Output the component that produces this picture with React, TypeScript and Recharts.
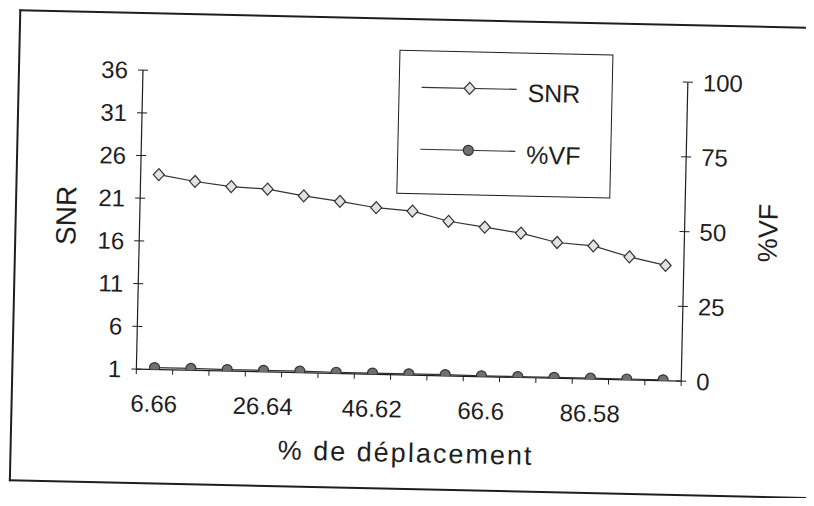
import { Label, Legend, Line, LineChart, XAxis, YAxis } from "recharts";

// % de déplacement (categories)
const deplacement = ["6.66", "13.32", "19.98", "26.64", "33.3", "39.96", "46.62", "53.28", "59.94", "66.6", "73.26", "79.92", "86.58", "93.24", "99.9"];
// SNR (left axis)
const snr = [23.8, 23.1, 22.6, 22.4, 21.7, 21.15, 20.5, 20.2, 19.1, 18.5, 17.9, 16.9, 16.6, 15.4, 14.5];
// %VF (right axis)
const vf = [0.6, 0.6, 0.5, 0.5, 0.5, 0.4, 0.4, 0.4, 0.4, 0.3, 0.3, 0.3, 0.3, 0.3, 0.3];

const snrTicks = [1, 6, 11, 16, 21, 26, 31, 36];
const vfTicks = [0, 25, 50, 75, 100];
const labelEvery = 3;
const seriesOrder = ["snr", "vf"];

const data = deplacement.map((x, i) => ({ x, snr: snr[i], vf: vf[i] }));

const W = 814;
const H = 506;
const PLOT = { left: 139, right: 684, top: 76, bottom: 375 };
const BAND = (PLOT.right - PLOT.left) / deplacement.length;
const AXIS_W = 60;
const XAXIS_H = 40;
const FONT = '"Liberation Sans", Arial, sans-serif';
const INK = "#1e1e1e";
const TICK_FONT = 24;

function LeftTick(props: any) {
  const y = props.payload.coordinate;
  return (
    <g>
      <line x1={PLOT.left - 5} x2={PLOT.left + 5} y1={y} y2={y} stroke={INK} />
      <text x={PLOT.left - 15} y={y} dy="0.36em" textAnchor="end" fontSize={TICK_FONT} fontFamily={FONT} fill={INK}>
        {props.payload.value}
      </text>
    </g>
  );
}

function RightTick(props: any) {
  const y = props.payload.coordinate;
  return (
    <g>
      <line x1={PLOT.right - 5} x2={PLOT.right + 5} y1={y} y2={y} stroke={INK} />
      <text x={PLOT.right + 15} y={y} dy="0.36em" textAnchor="start" fontSize={TICK_FONT} fontFamily={FONT} fill={INK}>
        {props.payload.value}
      </text>
    </g>
  );
}

function XTick(props: any) {
  const { payload, index } = props;
  const cx = payload.coordinate;
  const y0 = PLOT.bottom;
  return (
    <g>
      <line x1={cx - BAND / 2} x2={cx - BAND / 2} y1={y0} y2={y0 + 5} stroke={INK} />
      {index === deplacement.length - 1 && <line x1={cx + BAND / 2} x2={cx + BAND / 2} y1={y0} y2={y0 + 5} stroke={INK} />}
      {index % labelEvery === 0 && (
        <text x={cx} y={y0 + 34} dy="0.36em" textAnchor="middle" fontSize={TICK_FONT} fontFamily={FONT} fill={INK}>
          {payload.value}
        </text>
      )}
    </g>
  );
}

function Diamond({ cx, cy, s = 5.5 }: { cx: number; cy: number; s?: number }) {
  return <path d={`M${cx},${cy - s - 0.5}L${cx + s},${cy}L${cx},${cy + s + 0.5}L${cx - s},${cy}Z`} fill="#e2e2e2" stroke="#333" strokeWidth={1.2} />;
}

function DiamondDot(props: any) {
  if (props.cx == null || props.cy == null) return <g key={props.index} />;
  return (
    <g key={`d-${props.index}`}>
      <Diamond cx={props.cx} cy={props.cy} />
    </g>
  );
}

const legendRows = [36, 98];

function LegendBox(props: any) {
  const items = [...(props.payload || [])].sort((a: any, b: any) => seriesOrder.indexOf(a.dataKey) - seriesOrder.indexOf(b.dataKey));
  return (
    <div style={{ width: "100%", height: "100%", border: `1.5px solid ${INK}`, boxSizing: "border-box", background: "#fff" }}>
      <svg width={212} height={141} style={{ display: "block" }}>
        {items.map((it: any, i: number) => {
          const y = legendRows[i];
          return (
            <g key={it.value}>
              <line x1={22} x2={117} y1={y} y2={y} stroke="#333" strokeWidth={1.2} />
              {it.dataKey === "snr" ? <Diamond cx={70} cy={y} /> : <circle cx={70} cy={y} r={5} fill="#707070" stroke="#333" strokeWidth={1.2} />}
              <text x={128} y={y + 3} dy="0.36em" fontSize={25} fontFamily={FONT} fill={INK}>
                {it.value}
              </text>
            </g>
          );
        })}
      </svg>
    </div>
  );
}

export default function App() {
  return (
    <div style={{ margin: -8, width: W, height: H, overflow: "hidden", position: "relative", background: "#fff" }}>
      <div style={{ position: "absolute", left: 0, top: 0, width: W, height: H, transform: "rotate(1.27deg)", transformOrigin: `${W / 2}px ${H / 2}px` }}>
        <div
          style={{
            position: "absolute",
            left: 14,
            top: 18,
            width: W + 60,
            height: 472,
            borderLeft: `2px solid ${INK}`,
            borderTop: `2px solid ${INK}`,
            borderBottom: `2px solid ${INK}`,
            boxSizing: "border-box",
          }}
        />
        <LineChart
          width={W}
          height={H}
          data={data}
          margin={{ top: PLOT.top, left: PLOT.left - AXIS_W, right: W - PLOT.right - AXIS_W, bottom: H - PLOT.bottom - XAXIS_H }}
        >
          <XAxis
            dataKey="x"
            interval={0}
            height={XAXIS_H}
            padding={{ left: BAND / 2, right: BAND / 2 }}
            tick={<XTick />}
            tickLine={false}
            axisLine={{ stroke: INK, strokeWidth: 1.2 }}
          >
            <Label
              content={() => (
                <text x={410} y={462} textAnchor="middle" fontSize={27} letterSpacing={2} fontFamily={FONT} fill={INK}>
                  % de déplacement
                </text>
              )}
            />
          </XAxis>
          <YAxis
            yAxisId="snr"
            domain={[1, 36]}
            ticks={snrTicks}
            interval={0}
            width={AXIS_W}
            allowDataOverflow
            tick={<LeftTick />}
            tickLine={false}
            axisLine={{ stroke: INK, strokeWidth: 1.2 }}
          >
            <Label
              content={() => (
                <text x={65} y={223} dy="0.36em" textAnchor="middle" transform="rotate(-90 65 223)" fontSize={28} fontFamily={FONT} fill={INK}>
                  SNR
                </text>
              )}
            />
          </YAxis>
          <YAxis
            yAxisId="vf"
            orientation="right"
            domain={[0, 100]}
            ticks={vfTicks}
            interval={0}
            width={AXIS_W}
            allowDataOverflow
            tick={<RightTick />}
            tickLine={false}
            axisLine={{ stroke: INK, strokeWidth: 1.2 }}
          >
            <Label
              content={() => (
                <text x={767} y={225} dy="0.36em" textAnchor="middle" transform="rotate(-90 767 225)" fontSize={27} fontFamily={FONT} fill={INK}>
                  %VF
                </text>
              )}
            />
          </YAxis>
          <Legend
            layout="vertical"
            align="center"
            verticalAlign="middle"
            content={<LegendBox />}
            wrapperStyle={{ left: 395, top: 50, width: 214, height: 144 }}
          />
          <Line yAxisId="snr" dataKey="snr" name="SNR" stroke="#333" strokeWidth={1.2} dot={<DiamondDot />} isAnimationActive={false} />
          <Line
            yAxisId="vf"
            dataKey="vf"
            name="%VF"
            stroke="#333"
            strokeWidth={1.2}
            dot={{ r: 5, fill: "#707070", stroke: "#333", strokeWidth: 1.2 }}
            isAnimationActive={false}
          />
        </LineChart>
      </div>
    </div>
  );
}
